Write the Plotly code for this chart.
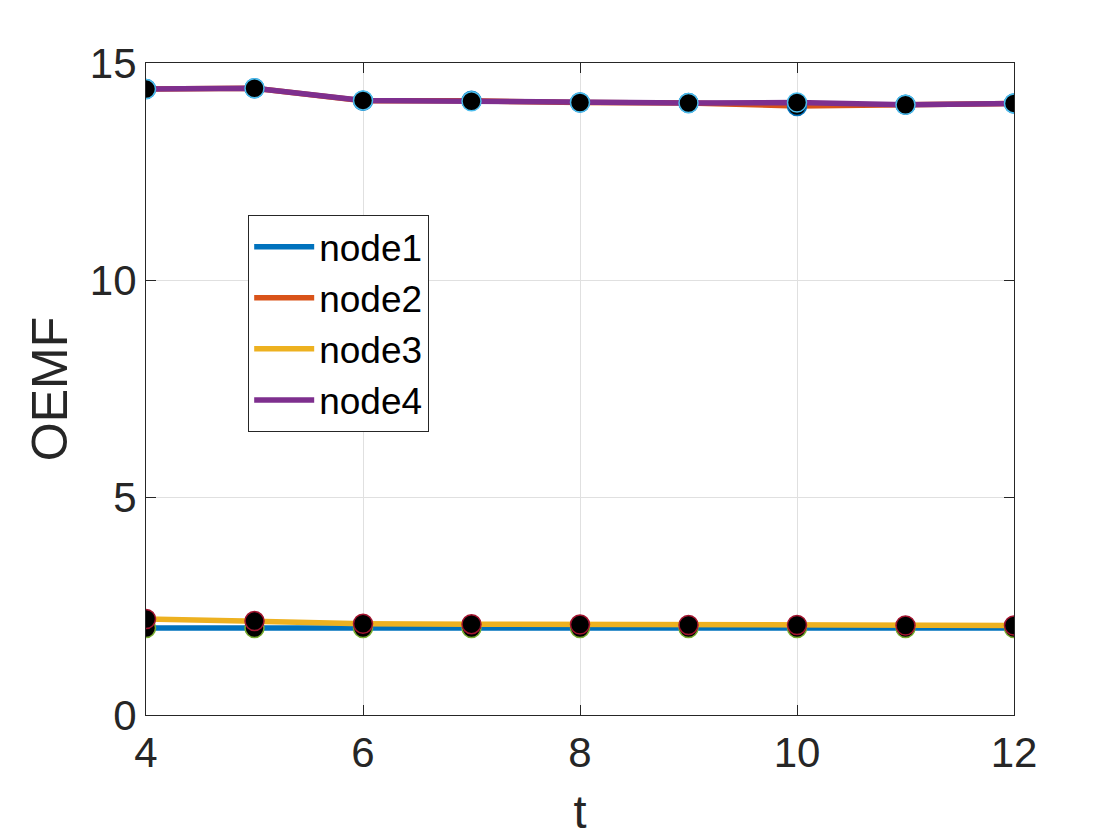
import plotly.graph_objects as go

t = [4, 5, 6, 7, 8, 9, 10, 11, 12]
node1 = [2.00, 2.00, 2.00, 2.00, 2.00, 2.00, 2.00, 2.00, 2.00]
node2 = [14.40, 14.42, 14.13, 14.13, 14.09, 14.08, 14.01, 14.04, 14.07]
node3 = [2.21, 2.16, 2.10, 2.09, 2.08, 2.07, 2.07, 2.06, 2.06]
node4 = [14.40, 14.42, 14.14, 14.12, 14.09, 14.08, 14.09, 14.04, 14.07]
names = ["node1", "node2", "node3", "node4"]
series = [node1, node2, node3, node4]
line_colors = ["#0072BD", "#D95319", "#EDB120", "#7E2F8E"]
edge_colors = ["#77AC30", "#0072BD", "#A2142F", "#4DBEEE"]
x_ticks = [4, 6, 8, 10, 12]
y_ticks = [0, 5, 10, 15]

FONT = "Helvetica, Liberation Sans, Arial, sans-serif"
TXT = "#262626"

fig = go.Figure()
for name, ys, lc, ec in zip(names, series, line_colors, edge_colors):
    fig.add_trace(go.Scatter(
        x=t, y=ys, mode="lines+markers", name=name, showlegend=False,
        line=dict(color=lc, width=5.5),
        marker=dict(color="black", size=19, line=dict(color=ec, width=1.5)),
    ))
for name, lc in zip(names, line_colors):
    fig.add_trace(go.Scatter(
        x=[None], y=[None], mode="lines", name=name, showlegend=True,
        line=dict(color=lc, width=5.5),
    ))

axis_common = dict(
    showgrid=True, gridcolor="#e0e0e0", gridwidth=1,
    showline=True, linecolor=TXT, linewidth=1.2, mirror="ticks",
    ticks="inside", ticklen=10, tickcolor=TXT, tickwidth=1,
    zeroline=False,
    tickfont=dict(family=FONT, size=42, color=TXT),
)
fig.update_xaxes(range=[4, 12], tickvals=x_ticks, ticktext=[str(v) for v in x_ticks],
                 title=dict(text="t", font=dict(family=FONT, size=47, color=TXT), standoff=20),
                 **axis_common)
fig.update_yaxes(range=[0, 15], tickvals=y_ticks, ticktext=[str(v) for v in y_ticks],
                 title=dict(text="OEMF", font=dict(family=FONT, size=50, color=TXT), standoff=6),
                 **axis_common)

fig.update_layout(
    width=1120, height=840,
    margin=dict(l=138, r=114, t=55, b=133),
    paper_bgcolor="white", plot_bgcolor="white",
    font=dict(family=FONT, color=TXT),
    legend=dict(
        x=0.1175, y=0.767, xanchor="left", yanchor="top",
        bgcolor="white", bordercolor=TXT, borderwidth=1.2,
        font=dict(family=FONT, size=37, color="black"),
        tracegroupgap=0, itemwidth=60,
    ),
)

fig.write_html("out.html")
